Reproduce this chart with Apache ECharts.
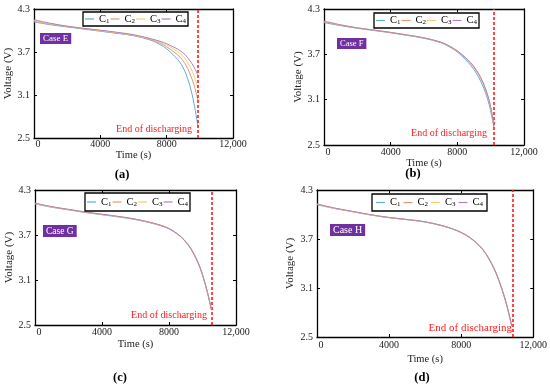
<!DOCTYPE html>
<html><head><meta charset="utf-8">
<script src="https://cdn.jsdelivr.net/npm/echarts@6/dist/echarts.min.js"></script>
<style>html,body{margin:0;padding:0;background:#fff}#c{width:550px;height:390px}</style>
</head><body><div id="c"></div>
<script>
// ---------- data ----------
const seriesNames = ['C1', 'C2', 'C3', 'C4'];
const xTicks = [0, 4000, 8000, 12000];
const xTickLabels = ['0', '4000', '8000', '12,000'];
const yTicks = [2.5, 3.1, 3.7, 4.3];
const yTickLabels = ['2.5', '3.1', '3.7', '4.3'];
const caseLabels = ['Case E', 'Case F', 'Case G', 'Case H'];
const panelLabels = ['(a)', '(b)', '(c)', '(d)'];
const endTimes = [9900, 10200, 10570, 10860];
const endText = 'End of discharging';
const xName = 'Time (s)';
const yName = 'Voltage (V)';

// Panel (a) - Case E
const timeA = [0, 1000, 2000, 3000, 4000, 5000, 6000, 7000, 7600, 8000, 8500, 8800, 9100, 9400, 9650, 9890];
const voltA_C1 = [4.12, 4.08, 4.05, 4.02, 3.99, 3.96, 3.928, 3.868, 3.805, 3.745, 3.635, 3.555, 3.43, 3.23, 2.98, 2.66];
const voltA_C2 = [4.13, 4.09, 4.055, 4.025, 3.995, 3.965, 3.932, 3.876, 3.826, 3.772, 3.69, 3.63, 3.54, 3.40, 3.24, 3.02];
const voltA_C3 = [4.14, 4.095, 4.06, 4.03, 4.0, 3.97, 3.937, 3.882, 3.84, 3.797, 3.73, 3.68, 3.61, 3.50, 3.37, 3.19];
const voltA_C4 = [4.15, 4.10, 4.06, 4.03, 4.005, 3.975, 3.942, 3.888, 3.85, 3.815, 3.76, 3.72, 3.665, 3.58, 3.49, 3.37];

// Panel (b) - Case F
const timeB = [0, 1000, 2000, 3000, 4000, 5000, 6000, 7000, 7500, 8000, 8500, 8800, 9100, 9400, 9700, 9950, 10200];
const voltB_C1 = [4.12, 4.08, 4.045, 4.015, 3.985, 3.95, 3.913, 3.855, 3.802, 3.732, 3.628, 3.555, 3.465, 3.345, 3.185, 3.00, 2.72];
const voltB_C2 = [4.13, 4.085, 4.05, 4.02, 3.99, 3.955, 3.917, 3.86, 3.81, 3.742, 3.648, 3.58, 3.495, 3.385, 3.23, 3.045, 2.75];
const voltB_C3 = [4.135, 4.09, 4.05, 4.02, 3.99, 3.955, 3.918, 3.861, 3.811, 3.744, 3.652, 3.585, 3.50, 3.39, 3.235, 3.05, 2.755];
const voltB_C4 = [4.14, 4.09, 4.05, 4.02, 3.99, 3.955, 3.918, 3.862, 3.812, 3.746, 3.656, 3.59, 3.505, 3.395, 3.24, 3.055, 2.76];

// Panel (c) - Case G
const timeC = [0, 1000, 2000, 3000, 4000, 5000, 6000, 7000, 7500, 8000, 8500, 8900, 9300, 9700, 10000, 10300, 10540];
const voltC_C1 = [4.115, 4.07, 4.035, 4.0, 3.97, 3.94, 3.905, 3.856, 3.825, 3.782, 3.712, 3.632, 3.516, 3.345, 3.165, 2.925, 2.695];
const voltC_C2 = [4.12, 4.075, 4.04, 4.005, 3.975, 3.945, 3.91, 3.86, 3.828, 3.785, 3.715, 3.635, 3.52, 3.35, 3.17, 2.93, 2.70];
const voltC_C3 = [4.12, 4.075, 4.04, 4.005, 3.975, 3.945, 3.91, 3.861, 3.83, 3.787, 3.718, 3.638, 3.524, 3.355, 3.175, 2.935, 2.705];
const voltC_C4 = [4.125, 4.078, 4.042, 4.007, 3.977, 3.947, 3.912, 3.862, 3.83, 3.786, 3.716, 3.636, 3.522, 3.352, 3.172, 2.932, 2.702];

// Panel (d) - Case H
const timeD = [0, 1000, 2000, 3000, 4000, 5000, 6000, 7000, 7500, 8000, 8500, 9000, 9400, 9800, 10100, 10400, 10600, 10800];
const voltD_C1 = [4.12, 4.072, 4.033, 3.993, 3.961, 3.936, 3.908, 3.858, 3.823, 3.778, 3.713, 3.617, 3.506, 3.345, 3.185, 2.985, 2.825, 2.635];
const voltD_C2 = [4.125, 4.075, 4.035, 3.995, 3.963, 3.938, 3.91, 3.86, 3.825, 3.78, 3.715, 3.62, 3.51, 3.35, 3.19, 2.99, 2.83, 2.64];
const voltD_C3 = [4.125, 4.075, 4.035, 3.995, 3.963, 3.938, 3.91, 3.861, 3.826, 3.782, 3.718, 3.623, 3.514, 3.355, 3.195, 2.995, 2.835, 2.645];
const voltD_C4 = [4.13, 4.078, 4.037, 3.997, 3.964, 3.939, 3.911, 3.861, 3.826, 3.781, 3.716, 3.621, 3.512, 3.352, 3.192, 2.992, 2.832, 2.642];

const panelTimes = [timeA, timeB, timeC, timeD];
const panelVolts = [
  [voltA_C1, voltA_C2, voltA_C3, voltA_C4],
  [voltB_C1, voltB_C2, voltB_C3, voltB_C4],
  [voltC_C1, voltC_C2, voltC_C3, voltC_C4],
  [voltD_C1, voltD_C2, voltD_C3, voltD_C4]
];

// ---------- styles / layout ----------
const colors = ['#66AAD7', '#E89875', '#F4D079', '#B282BB'];
const FONT = '"Liberation Serif", "Times New Roman", serif';
const grids = [
  {left: 34, top: 9, width: 199, height: 129},
  {left: 324, top: 9, width: 200, height: 136},
  {left: 35, top: 190, width: 201, height: 135},
  {left: 317, top: 190, width: 222, height: 147}
];
const xNameGap = [11, 8, 14, 17];
const yNameGap = [18, 18, 20, 21];
const xLabelMargin = [1, 2, 2, 3];
const legendPos = [
  {left: 83, top: 12, pad: [1.5, 2], gap: 1},
  {left: 374, top: 13, pad: [2, 2], gap: 1},
  {left: 85, top: 193, pad: [3.5, 2], gap: 1},
  {left: 372, top: 194, pad: [3, 4], gap: 3}
];
const casePos = [
  {x: 40, y: 33, fs: 9}, {x: 337, y: 38, fs: 8.5}, {x: 43, y: 225, fs: 9.5}, {x: 330, y: 224, fs: 10}
];
const endPos = [
  {x: 192, y: 129, fs: 10}, {x: 487, y: 133, fs: 10}, {x: 207, y: 315, fs: 10}, {x: 512, y: 328, fs: 11}
];
const panelPos = [{x: 122, y: 175}, {x: 413, y: 174}, {x: 120, y: 378}, {x: 422, y: 378}];

const xAxes = [], yAxes = [], series = [], legends = [], graphics = [];
const lineCol = '#000';

grids.forEach((g, i) => {
  const common = {
    type: 'value', gridIndex: i, splitLine: {show: false},
    axisLine: {show: true, onZero: false, lineStyle: {color: lineCol, width: 1.3}}
  };
  xAxes.push(Object.assign({}, common, {
    position: 'bottom', min: 0, max: 12000,
    axisTick: {show: true, inside: true, length: 3, customValues: xTicks, lineStyle: {color: lineCol, width: 1}},
    axisLabel: {
      show: true, customValues: xTicks, margin: xLabelMargin[i],
      fontFamily: FONT, fontSize: 10, color: '#222',
      formatter: v => { const k = xTicks.indexOf(v); return k === 0 ? '{z|' + xTickLabels[k] + '}' : xTickLabels[k]; },
      rich: {z: {fontFamily: FONT, fontSize: 10, color: '#222', padding: [0, 0, 0, 8]}}
    },
    name: xName, nameLocation: 'middle', nameGap: xNameGap[i],
    nameTextStyle: {fontFamily: FONT, fontSize: 10.5, color: '#222'}
  }));
  xAxes.push(Object.assign({}, common, {
    position: 'top', min: 0, max: 12000,
    axisTick: {show: true, inside: true, length: 3, customValues: xTicks, lineStyle: {color: lineCol, width: 1}},
    axisLabel: {show: false}
  }));
  yAxes.push(Object.assign({}, common, {
    position: 'left', min: 2.5, max: 4.3,
    axisTick: {show: true, inside: true, length: 3, customValues: yTicks, lineStyle: {color: lineCol, width: 1}},
    axisLabel: {
      show: true, customValues: yTicks, margin: 4, fontFamily: FONT, fontSize: 10, color: '#222',
      formatter: v => yTickLabels[yTicks.indexOf(v)]
    },
    name: yName, nameLocation: 'middle', nameGap: yNameGap[i],
    nameTextStyle: {fontFamily: FONT, fontSize: 11, color: '#222'}
  }));
  yAxes.push(Object.assign({}, common, {
    position: 'right', min: 2.5, max: 4.3,
    axisTick: {show: true, inside: true, length: 3, customValues: yTicks, lineStyle: {color: lineCol, width: 1}},
    axisLabel: {show: false}
  }));

  const t = panelTimes[i];
  seriesNames.forEach((nm, k) => {
    const s = {
      type: 'line', name: nm, xAxisIndex: 2 * i, yAxisIndex: 2 * i,
      data: t.map((tt, j) => [tt, panelVolts[i][k][j]]),
      showSymbol: false, symbol: 'none', smooth: 0.35,
      lineStyle: {color: colors[k], width: 1}, itemStyle: {color: colors[k]},
      silent: true, z: 2 + k
    };
    if (k === 0) {
      s.markLine = {
        symbol: ['none', 'none'], silent: true, animation: false,
        lineStyle: {color: '#FF1A1A', type: [3, 2], width: 1.6},
        label: {show: false},
        data: [{xAxis: endTimes[i]}]
      };
    }
    series.push(s);
  });

  const lp = legendPos[i];
  legends.push({
    left: lp.left, top: lp.top, orient: 'horizontal', data: seriesNames,
    icon: 'rect', itemWidth: 9, itemHeight: 1.2, itemGap: lp.gap, padding: lp.pad,
    borderColor: '#000', borderWidth: 1.3, backgroundColor: '#fff', borderRadius: 0,
    selectedMode: false, z: 10,
    formatter: nm => '{c|' + nm.charAt(0) + '}{s|' + nm.slice(1) + '}',
    textStyle: {
      fontFamily: FONT, color: '#000',
      rich: {
        c: {fontFamily: FONT, fontSize: 10.5, lineHeight: 11, color: '#000'},
        s: {fontFamily: FONT, fontSize: 7, lineHeight: 7, verticalAlign: 'bottom', color: '#000'}
      }
    }
  });

  const cp = casePos[i];
  graphics.push({
    type: 'text', x: cp.x, y: cp.y, z: 20,
    style: {text: caseLabels[i], fill: '#fff', backgroundColor: '#7030A0', padding: [1, 3],
      font: cp.fs + 'px ' + FONT, verticalAlign: 'top', align: 'left'}
  });
  const ep = endPos[i];
  graphics.push({
    type: 'text', x: ep.x, y: ep.y, z: 20,
    style: {text: endText, fill: '#FF1A1A', font: ep.fs + 'px ' + FONT, align: 'right', verticalAlign: 'middle'}
  });
  const pp = panelPos[i];
  graphics.push({
    type: 'text', x: pp.x, y: pp.y, z: 20,
    style: {text: panelLabels[i], fill: '#000', font: 'bold 12.5px ' + FONT, align: 'center', verticalAlign: 'middle'}
  });
});

const chart = echarts.init(document.getElementById('c'), null, {renderer: 'canvas'});
chart.setOption({
  animation: false,
  backgroundColor: '#fff',
  grid: grids.map(g => Object.assign({containLabel: false}, g)),
  xAxis: xAxes, yAxis: yAxes, series: series, legend: legends, graphic: graphics
});
</script></body></html>
